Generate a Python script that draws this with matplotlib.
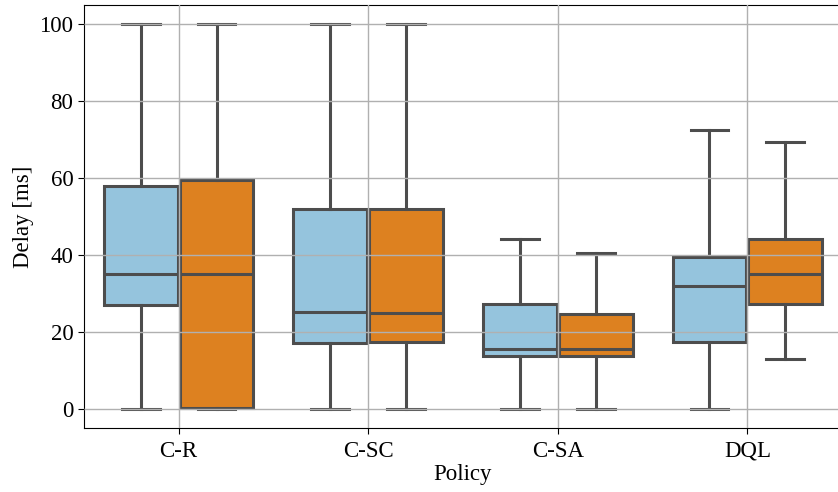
import numpy as np
import matplotlib
matplotlib.use("Agg")
import matplotlib.pyplot as plt

plt.rcParams['font.family'] = ['Liberation Serif', 'DejaVu Serif']
plt.rcParams['font.size'] = 16.5

policies = ['C-R', 'C-SC', 'C-SA', 'DQL']

# box stats per policy: [whisker low, q1, median, q3, whisker high]
series_a = [
    [0, 27, 35, 58, 100],
    [0, 17.1, 25.2, 52, 100],
    [0, 13.8, 15.6, 27.3, 44.2],
    [0, 17.4, 32, 39.5, 72.5],
]
series_b = [
    [0, 0.3, 35, 59.5, 100],
    [0, 17.4, 24.9, 52, 100],
    [0, 13.8, 15.6, 24.7, 40.5],
    [13, 27.3, 35, 44.2, 69.4],
]

color_a = '#95c4dd'
color_b = '#dd8120'
edge = '#4d4d4d'


def to_stats(rows):
    out = []
    for lo, q1, med, q3, hi in rows:
        out.append(dict(whislo=lo, q1=q1, med=med, q3=q3, whishi=hi, fliers=[]))
    return out


fig = plt.figure(figsize=(8.38, 4.92), dpi=100)
ax = fig.add_axes([0.1, 0.13, 0.905, 0.86])

x = np.arange(len(policies))
for stats, offs, col in [(series_a, -0.2, color_a), (series_b, 0.2, color_b)]:
    ax.bxp(to_stats(stats), positions=x + offs, widths=0.39, capwidths=0.2,
           patch_artist=True, showfliers=False,
           boxprops=dict(facecolor=col, edgecolor=edge, linewidth=2.2),
           whiskerprops=dict(color=edge, linewidth=2.2),
           capprops=dict(color=edge, linewidth=2.2),
           medianprops=dict(color=edge, linewidth=2.2))

ax.set_xticks(x)
ax.set_xticklabels(policies)
ax.set_xlim(-0.5, 3.5)
ax.set_ylim(-5, 105)
ax.set_yticks([0, 20, 40, 60, 80, 100])
ax.tick_params(length=4)
ax.tick_params(axis='x', pad=5)
ax.grid(True, color='#b0b0b0', linewidth=1)
ax.set_axisbelow(False)
ax.set_xlabel('Policy', labelpad=2)
ax.set_ylabel('Delay [ms]')
ax.spines['right'].set_visible(False)

fig.savefig('out.png', dpi=100)
